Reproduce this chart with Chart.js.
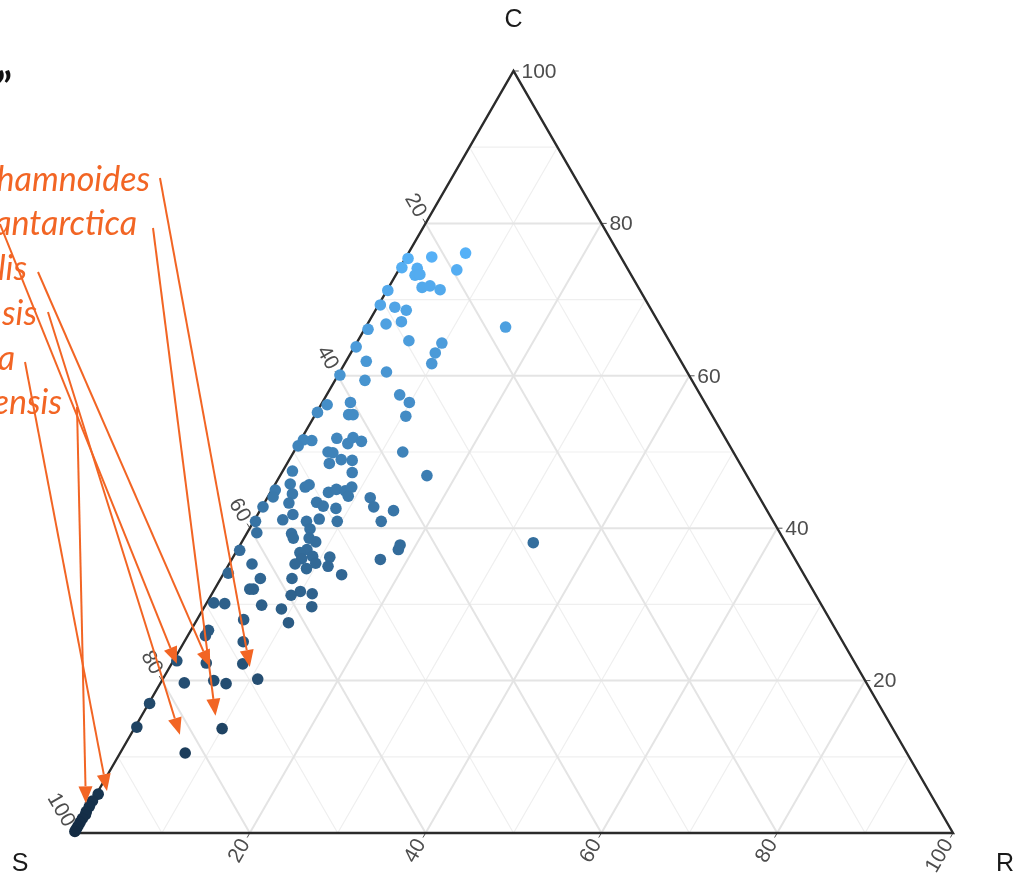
<!DOCTYPE html>
<html>
<head>
<meta charset="utf-8">
<title>CSR ternary</title>
<style>
  html, body { margin: 0; padding: 0; background: #ffffff; }
  #wrap { width: 1018px; height: 878px; }
</style>
<script src="https://cdn.jsdelivr.net/npm/chart.js@4.4.1/dist/chart.umd.min.js"></script>
</head>
<body>
<div id="wrap"><canvas id="tern" width="1018" height="878"></canvas></div>
<script>
// Ternary values in percent; S = 100 - C - R
const pointC = [76.1, 75.6, 73.9, 75.4, 74.1, 73.2, 73.3, 71.6, 71.8, 71.3, 74.2, 71.2, 69.0, 68.6, 67.1, 66.8, 69.3, 64.6, 64.3, 63.0,
  61.6, 66.4, 66.1, 63.8, 61.9, 60.5, 59.4, 60.1, 57.5, 56.5, 56.5, 56.2, 54.7, 55.2, 54.9, 54.9, 51.5, 51.6, 51.8, 51.1,
  51.9, 51.4, 50.0, 49.9, 49.0, 48.5, 48.9, 47.3, 50.0, 46.9, 47.5, 50.8, 45.8, 45.4, 45.7, 44.5, 44.7, 45.1, 44.9, 45.4,
  44.2, 43.4, 44.0, 45.0, 43.3, 42.9, 42.6, 42.8, 42.3, 41.1, 41.8, 40.9, 41.2, 40.9, 40.9, 39.9, 39.3, 38.7, 39.4, 38.7,
  38.2, 37.2, 36.8, 36.3, 36.0, 35.3, 35.4, 36.2, 35.0, 33.9, 34.7, 35.9, 37.2, 37.8, 35.3, 33.4, 33.4, 44.1, 42.8, 40.9,
  37.1, 34.1, 32.0, 32.0, 31.7, 31.4, 31.2, 30.1, 29.9, 29.4, 29.7, 27.6, 38.1, 30.2, 28.0, 26.6, 25.9, 25.1, 22.2, 22.3,
  22.6, 19.7, 20.0, 19.6, 20.2, 13.7, 10.5, 17.0, 13.9, 5.1, 4.2, 3.5, 2.8, 2.4, 1.9, 1.4, 0.9, 0.5, 0.2];
const pointR = [6.5, 2.9, 6.6, 0.3, 2.0, 2.2, 2.7, 3.8, 4.6, 6.0, 0.2, 0.1, 2.0, 3.5, 3.7, 2.1, 0.2, 5.8, 9.7, 9.6,
  9.9, 15.9, 0.4, 0.2, 2.3, 5.3, 3.4, 0.2, 8.3, 9.9, 3.2, 0.7, 10.4, 0.1, 3.8, 4.3, 1.3, 0.3, 4.0, 5.6,
  5.8, 7.0, 3.9, 4.5, 5.9, 4.8, 7.2, 8.0, 12.4, 16.7, 1.1, 0.1, 1.7, 3.6, 3.9, 2.6, 6.6, 7.3, 8.4, 8.9,
  9.1, 5.9, 11.7, 0.4, 2.8, 6.9, 8.5, 12.7, 15.2, 3.2, 4.0, 6.0, 7.3, 9.5, 14.5, 6.9, 5.1, 5.6, 1.1, 7.4,
  8.4, 7.9, 7.3, 9.0, 7.9, 7.5, 9.8, 11.0, 11.4, 13.5, 9.1, 16.9, 18.3, 18.2, 2.6, 4.5, 8.1, 0.6, 0.1, 0.2,
  0.3, 0.5, 4.0, 4.4, 9.9, 11.4, 9.1, 2.1, 6.4, 8.9, 12.2, 10.6, 33.2, 0.8, 5.3, 2.0, 2.0, 6.7, 8.1, 3.9,
  0.4, 2.7, 5.9, 7.5, 10.8, 10.0, 7.4, 0.1, 0.2, 0.2, 0.0, 0.0, 0.0, 0.1, 0.0, 0.0, 0.0, 0.0, 0.0];

const tickValues = [20, 40, 60, 80, 100];
const gridValues = [10, 20, 30, 40, 50, 60, 70, 80, 90];
const axisNames = ['C', 'S', 'R'];

// species notes (text is cut off by the left edge, as in the source)
const noteNames = ['Hippophae rhamnoides', 'Deschampsia antarctica', 'Silene acaulis',
  'Azorella macquariensis', 'Prasiola crispa', 'Colobanthus quitensis'];
// arrow tips, in ternary values
const arrowTipC = [21.8, 15.4, 21.8, 12.9, 5.5, 3.9, 22.2];
const arrowTipR = [9.1, 8.4, 4.6, 5.6, 1.0, -0.6, 0.6];

// layout (pixels) for the notes and arrow tails
const noteEndX = [150, 137, 27, 37, 15, 62];
const noteBaseY = [191, 235, 280, 325, 370, 414];
const arrowFrom = [[160, 178], [153, 228], [38, 272], [48, 312], [25, 362], [77, 407], [0, 224]];

const LOW = [0x13, 0x2B, 0x43];
const HIGH = [0x56, 0xB1, 0xF7];
const ORANGE = '#f26524';

// ternary -> cartesian (plot units)
const tern = (c, r) => ({ x: r + c / 2, y: c });

const cMin = Math.min(...pointC);
const cMax = Math.max(...pointC);
function colourFor(c) {
  const t = (c - cMin) / (cMax - cMin);
  const ch = LOW.map((v, i) => Math.round(v + (HIGH[i] - v) * t));
  return `rgb(${ch[0]}, ${ch[1]}, ${ch[2]})`;
}

function segment(c1, r1, c2, r2, color, width, order) {
  return {
    type: 'scatter',
    data: [tern(c1, r1), tern(c2, r2)],
    showLine: true,
    borderColor: color,
    borderWidth: width,
    pointRadius: 0,
    order: order
  };
}

const datasets = [];

// points
datasets.push({
  type: 'scatter',
  data: pointC.map((c, i) => tern(c, pointR[i])),
  backgroundColor: pointC.map(colourFor),
  borderWidth: 0,
  pointRadius: 5.8,
  order: 0
});

// triangle frame
datasets.push({
  type: 'scatter',
  data: [tern(0, 0), tern(0, 100), tern(100, 0), tern(0, 0)],
  showLine: true,
  borderColor: '#2b2b2b',
  borderWidth: 2.4,
  pointRadius: 0,
  order: 1
});

// grid: constant C, constant R, constant S
gridValues.forEach(k => {
  const major = k % 20 === 0;
  const col = major ? '#e4e4e4' : '#efefef';
  const w = major ? 2 : 1.2;
  const ord = major ? 3 : 4;
  datasets.push(segment(k, 0, k, 100 - k, col, w, ord));
  datasets.push(segment(0, k, 100 - k, k, col, w, ord));
  datasets.push(segment(0, 100 - k, 100 - k, 0, col, w, ord));
});

// outward tick marks
const TL = 0.6;
tickValues.forEach(t => {
  datasets.push(segment(t, 100 - t, t, 100 - t + TL, '#555555', 1, 2));        // C axis, right edge
  datasets.push(segment(100 - t, 0, 100 - t + TL, -TL, '#555555', 1, 2));      // S axis, left edge
  datasets.push(segment(0, t, -TL, t, '#555555', 1, 2));                       // R axis, bottom edge
});

const ternText = {
  id: 'ternText',
  afterDatasetsDraw(chart) {
    const { ctx } = chart;
    const xs = chart.scales.x, ys = chart.scales.y;
    const px = (c, r) => ({ x: xs.getPixelForValue(r + c / 2), y: ys.getPixelForValue(c) });

    ctx.save();
    ctx.fillStyle = '#4d4d4d';
    ctx.font = '21px "Liberation Sans", Arial, sans-serif';
    ctx.textBaseline = 'middle';

    tickValues.forEach(t => {
      // C labels: horizontal, right of the right edge
      let p = px(t, 100 - t);
      ctx.textAlign = 'left';
      ctx.fillText(String(t), p.x + 8, p.y + 1);

      // S labels: along the constant-S direction, up-left of the left edge
      p = px(100 - t, 0);
      ctx.save();
      ctx.translate(p.x - 0.5 * 9, p.y - 0.866 * 9);
      ctx.rotate(Math.PI / 3);
      ctx.textAlign = 'right';
      ctx.fillText(String(t), 0, 0);
      ctx.restore();

      // R labels: along the constant-R direction, below the bottom edge
      p = px(0, t);
      ctx.save();
      ctx.translate(p.x - 0.5 * 9, p.y + 0.866 * 9);
      ctx.rotate(-Math.PI / 3);
      ctx.textAlign = 'right';
      ctx.fillText(String(t), 0, 0);
      ctx.restore();
    });

    // corner titles
    ctx.fillStyle = '#1a1a1a';
    ctx.font = '25px "Liberation Sans", Arial, sans-serif';
    ctx.textAlign = 'center';
    const top = px(100, 0), left = px(0, 0), right = px(0, 100);
    ctx.fillText(axisNames[0], top.x, top.y - 51);
    ctx.fillText(axisNames[1], left.x - 54, left.y + 31);
    ctx.fillText(axisNames[2], right.x + 52, right.y + 31);

    // species notes
    ctx.fillStyle = ORANGE;
    ctx.font = 'italic 34px Lato, "Open Sans", sans-serif';
    ctx.textAlign = 'right';
    ctx.textBaseline = 'alphabetic';
    noteNames.forEach((name, i) => ctx.fillText(name, noteEndX[i], noteBaseY[i]));

    // arrows
    ctx.strokeStyle = ORANGE;
    ctx.lineWidth = 2;
    arrowFrom.forEach((from, i) => {
      const tip = px(arrowTipC[i], arrowTipR[i]);
      const dx = tip.x - from[0], dy = tip.y - from[1];
      const len = Math.hypot(dx, dy);
      const ux = dx / len, uy = dy / len;
      const head = 17, half = 7;
      const bx = tip.x - ux * head, by = tip.y - uy * head;
      ctx.beginPath();
      ctx.moveTo(from[0], from[1]);
      ctx.lineTo(bx, by);
      ctx.stroke();
      ctx.beginPath();
      ctx.moveTo(tip.x, tip.y);
      ctx.lineTo(bx - uy * half, by + ux * half);
      ctx.lineTo(bx + uy * half, by - ux * half);
      ctx.closePath();
      ctx.fill();
    });

    // end of a cut-off title
    ctx.fillStyle = '#111111';
    ctx.font = 'bold 40px Lato, "Open Sans", sans-serif';
    ctx.textAlign = 'right';
    ctx.fillText('\u201D', 12, 101);
    ctx.restore();
  }
};

// plot-unit ranges chosen so the triangle sits at S(74,833) R(953,833) C(513,71)
const PX_U = 8.79, PX_C = 7.62;
const xMin = -74 / PX_U, xMax = xMin + 1018 / PX_U;
const yMin = -(878 - 833) / PX_C, yMax = yMin + 878 / PX_C;

new Chart(document.getElementById('tern'), {
  type: 'scatter',
  data: { datasets },
  options: {
    responsive: false,
    animation: false,
    events: [],
    layout: { padding: 0, autoPadding: false },
    plugins: { legend: { display: false }, tooltip: { enabled: false } },
    scales: {
      x: { type: 'linear', min: xMin, max: xMax, display: false },
      y: { type: 'linear', min: yMin, max: yMax, display: false }
    }
  },
  plugins: [ternText]
});
</script>
</body>
</html>
